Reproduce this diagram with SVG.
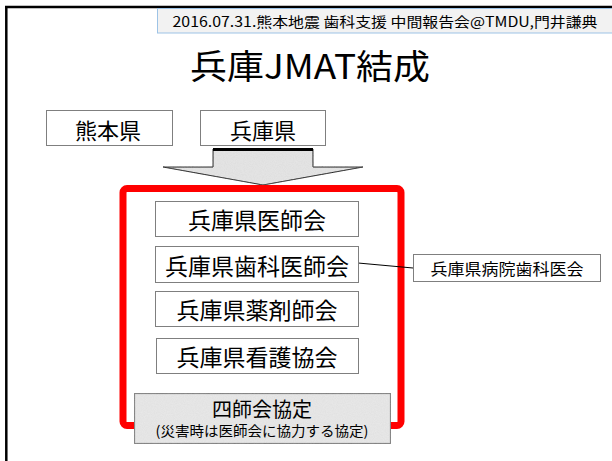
<svg xmlns="http://www.w3.org/2000/svg" width="612" height="461" viewBox="0 0 612 461">
<style>
text{font-family:"Noto Sans CJK JP","Noto Sans",sans-serif;fill:#000;text-anchor:middle;dominant-baseline:central}
.box{fill:#fff;stroke:#7f7f7f;stroke-width:1}
.gbox{fill:#e9e9e9;stroke:#7f7f7f;stroke-width:1.2}
.t22{font-size:22px}
.t23{font-size:23px}
</style>
<defs>
<filter id="noise" x="0" y="0" width="100%" height="100%">
<feTurbulence type="fractalNoise" baseFrequency="0.9" numOctaves="2" seed="3" result="n"/>
<feColorMatrix in="n" type="matrix" values="0 0 0 0 0.5  0 0 0 0 0.5  0 0 0 0 0.5  0 0 0 0.22 0" result="g"/>
<feComposite in="g" in2="SourceGraphic" operator="in" result="gi"/>
<feMerge><feMergeNode in="SourceGraphic"/><feMergeNode in="gi"/></feMerge>
</filter>
</defs>
<rect width="612" height="461" fill="#fff"/>
<g id="frame">
<line x1="5" y1="7" x2="612" y2="7" stroke="#000" stroke-width="2.5"/>
<line x1="6.3" y1="6" x2="6.3" y2="461" stroke="#000" stroke-width="2.5"/>
</g>
<g id="header">
<rect x="157.5" y="8.5" width="460" height="24.5" fill="#f2f2f2" stroke="#9dc3e6" stroke-width="1"/>
<text x="385" y="20.5" style="font-size:14px" textLength="425" lengthAdjust="spacingAndGlyphs">2016.07.31.熊本地震 歯科支援 中間報告会@TMDU,門井謙典</text>
</g>
<g id="title">
<text x="310" y="64" style="font-size:34px" textLength="240" lengthAdjust="spacingAndGlyphs">兵庫JMAT結成</text>
</g>
<g id="kumamoto">
<rect class="box" x="46.5" y="110.5" width="126" height="35"/>
<text class="t22" x="108" y="128.5">熊本県</text>
</g>
<g id="hyogo">
<rect class="box" x="200.5" y="110.5" width="125" height="35"/>
<text class="t22" x="263" y="128.5">兵庫県</text>
</g>
<g id="arrow">
<polygon points="213,149 313,149 313,167 363,167 263,185 163,167 213,167" fill="#e6e6e6" stroke="#000" stroke-width="1" filter="url(#noise)"/>
<line x1="213" y1="149.5" x2="313" y2="149.5" stroke="#000" stroke-width="3"/>
</g>
<g id="redframe">
<rect x="123" y="188.5" width="278" height="237" rx="4" fill="none" stroke="#ff0000" stroke-width="7"/>
</g>
<g id="connectors">
<line x1="358" y1="263" x2="413" y2="268" stroke="#000" stroke-width="1"/>
</g>
<g id="ishikai">
<rect class="box" x="155.5" y="201.5" width="203" height="35"/>
<text class="t23" x="257" y="219">兵庫県医師会</text>
</g>
<g id="shikaishikai">
<rect class="box" x="155.5" y="246.5" width="203" height="36"/>
<text class="t23" x="257" y="264.5">兵庫県歯科医師会</text>
</g>
<g id="yakuzaishikai">
<rect class="box" x="155.5" y="291.5" width="203" height="35"/>
<text class="t23" x="257" y="309">兵庫県薬剤師会</text>
</g>
<g id="kango">
<rect class="box" x="156.5" y="338.5" width="202" height="35"/>
<text class="t23" x="257" y="356">兵庫県看護協会</text>
</g>
<g id="byoin">
<rect class="box" x="413.5" y="254.5" width="187" height="27"/>
<text x="507" y="268" style="font-size:16px" textLength="153" lengthAdjust="spacingAndGlyphs">兵庫県病院歯科医会</text>
</g>
<g id="kyotei">
<rect class="gbox" x="134.5" y="393.5" width="256" height="50" filter="url(#noise)"/>
<text x="262" y="408" style="font-size:20px">四師会協定</text>
<text x="262" y="430" style="font-size:14px" textLength="213" lengthAdjust="spacingAndGlyphs">(災害時は医師会に協力する協定)</text>
</g>
</svg>
